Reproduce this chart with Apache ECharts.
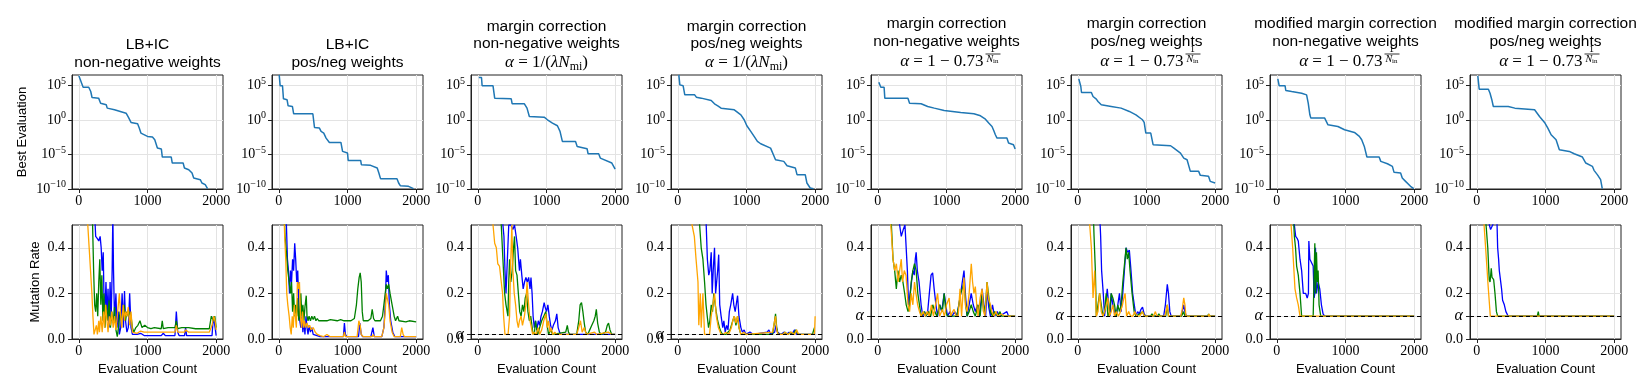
<!DOCTYPE html>
<html>
<head>
<meta charset="utf-8">
<script src="https://cdn.jsdelivr.net/npm/echarts@6/dist/echarts.min.js"></script>
<style>
  html, body { margin: 0; padding: 0; background: #fff; }
  #main { width: 1644px; height: 392px; }
</style>
</head>
<body>
<div id="main"></div>
<script>
// tick positions
const xTicks = [0, 1000, 2000];
const logTicks = [1e-10, 1e-5, 1, 1e5];
const rateTicks = [0, 0.2, 0.4];

// panel titles
const titleLines = [
  ['LB+IC', 'non-negative weights'],
  ['LB+IC', 'pos/neg weights'],
  ['margin correction', 'non-negative weights'],
  ['margin correction', 'pos/neg weights'],
  ['margin correction', 'non-negative weights'],
  ['margin correction', 'pos/neg weights'],
  ['modified margin correction', 'non-negative weights'],
  ['modified margin correction', 'pos/neg weights']
];
const formulaKind = [null, null, 'mi', 'mi', 'in', 'in', 'in', 'in'];
const alphaValues = [null, null, 0.02, 0.02, 0.1, 0.1, 0.1, 0.1];

// best evaluation, stored as [evaluation count, log10(best)]
const best1 = [[0,6.43],[62,4.78],[144,4.78],[173,4.15],[192,3.28],[288,3.19],[317,2.46],[399,2.22],[413,1.74],[519,1.5],[688,1.01],[721,0.43],[760,-0.34],[856,-0.53],[880,-1.16],[904,-1.88],[1000,-2.37],[1072,-2.46],[1106,-2.85],[1144,-4.06],[1202,-4.2],[1216,-5.36],[1346,-5.36],[1361,-6.23],[1519,-6.23],[1538,-6.96],[1601,-7.2],[1649,-7.68],[1673,-8.4],[1769,-8.65],[1793,-9.13],[1841,-9.37],[1875,-9.95]];
const best2 = [[5,6.57],[19,4.98],[53,4.98],[67,3.09],[120,2.95],[135,2.08],[197,1.98],[216,0.92],[495,0.92],[519,-1.06],[591,-1.16],[615,-1.64],[654,-1.88],[688,-2.61],[736,-3.24],[904,-3.24],[928,-4.54],[1000,-4.78],[1010,-5.85],[1192,-5.85],[1202,-6.47],[1337,-6.57],[1433,-6.96],[1457,-7.68],[1481,-8.5],[1721,-8.5],[1745,-9.13],[1769,-9.52],[1889,-9.61],[1962,-9.95]];
const best3 = [[14,6.18],[53,6.18],[62,4.98],[221,4.98],[245,3.19],[486,3.09],[500,2.37],[678,2.37],[716,1.74],[750,0.53],[966,0.43],[1014,0.05],[1087,-0.43],[1159,-0.82],[1197,-1.64],[1231,-3.09],[1423,-3.09],[1447,-3.82],[1591,-4.15],[1606,-4.88],[1760,-4.88],[1784,-5.51],[1952,-6.23],[2000,-7.1]];
const best4 = [[14,6.57],[29,5.12],[77,4.98],[101,3.67],[245,3.67],[269,3.33],[341,3.19],[356,2.95],[486,2.85],[534,2.37],[582,2.08],[630,1.74],[822,1.5],[918,0.77],[966,0.05],[1005,-0.82],[1062,-1.64],[1111,-2.37],[1159,-3.09],[1207,-3.43],[1351,-4.06],[1423,-5.75],[1543,-5.99],[1591,-6.62],[1712,-6.96],[1736,-7.92],[1856,-7.92],[1880,-9.13],[1928,-9.86],[1976,-9.95]];
const best5 = [[14,5.51],[43,4.78],[91,4.78],[101,3.19],[438,3.19],[462,2.46],[630,2.37],[726,1.98],[822,1.74],[966,1.4],[1207,1.11],[1399,0.92],[1495,0.63],[1567,0.14],[1615,-0.43],[1663,-0.92],[1688,-1.5],[1712,-2.13],[1736,-2.61],[1880,-2.61],[1904,-3.33],[1976,-3.57],[2000,-4.2]];
const best6 = [[14,5.99],[43,4.88],[53,4.01],[197,4.01],[221,3.43],[269,3.04],[293,2.71],[341,2.22],[486,1.98],[630,1.74],[750,1.26],[846,0.77],[942,0.05],[966,-0.34],[990,-1.88],[1062,-1.88],[1096,-3.57],[1351,-3.72],[1399,-4.06],[1495,-4.78],[1543,-5.51],[1591,-5.75],[1639,-7.44],[1760,-7.44],[1784,-8.02],[1904,-8.16],[1928,-8.89],[2000,-9.13]];
const best7 = [[14,5.99],[34,4.98],[120,4.98],[130,4.3],[216,4.15],[361,3.91],[433,3.67],[457,2.46],[481,0.77],[495,0.29],[697,0.29],[745,-0.68],[889,-0.92],[986,-1.4],[1130,-1.79],[1202,-2.37],[1236,-2.85],[1274,-3.82],[1312,-5.36],[1490,-5.36],[1514,-5.99],[1611,-6.33],[1683,-6.71],[1707,-7.58],[1803,-7.68],[1827,-8.41],[1875,-8.89],[1947,-9.61],[1995,-9.95]];
const best8 = [[14,6.43],[34,4.49],[168,4.49],[192,3.91],[216,3.04],[240,1.98],[457,1.98],[553,1.74],[841,1.5],[913,0.53],[986,-0.34],[1034,-1.16],[1082,-2.13],[1154,-2.85],[1202,-4.3],[1346,-4.54],[1418,-4.88],[1538,-5.36],[1587,-6.23],[1683,-6.71],[1707,-7.29],[1755,-7.92],[1803,-8.65],[1827,-9.95]];

// mutation rate, [evaluation count, rate]
const blue1 = [[0,1],[200,0.9],[230,0.55],[245,0.45],[270,0.44],[290,0.43],[310,0.45],[325,0.4],[340,0.3],[355,0.38],[365,0.2],[380,0.12],[395,0.25],[410,0.1],[425,0.22],[440,0.05],[455,0.25],[470,0.08],[485,0.3],[495,0.55],[505,0.3],[520,0.08],[540,0.2],[555,0.05],[575,0.12],[590,0.02],[610,0.05],[630,0.2],[650,0.05],[665,0.21],[680,0.08],[700,0.03],[720,0.05],[740,0.2],[760,0.05],[780,0.02],[800,0.015],[850,0.02],[900,0.025],[950,0.015],[1200,0.015],[1230,0.025],[1260,0.015],[1400,0.015],[1420,0.12],[1440,0.03],[1460,0.015],[1540,0.015],[1555,0.05],[1570,0.015],[1940,0.015],[1960,0.1],[1985,0.05],[2000,0.015]];
const green1 = [[0,1],[180,0.8],[200,0.5],[215,0.3],[230,0.15],[245,0.12],[260,0.2],[275,0.1],[290,0.25],[305,0.35],[320,0.15],[335,0.28],[350,0.08],[365,0.2],[380,0.05],[400,0.15],[420,0.08],[440,0.17],[460,0.05],[480,0.12],[500,0.07],[520,0.14],[540,0.04],[560,0.01],[580,0.06],[600,0.12],[620,0.08],[640,0.1],[660,0.15],[680,0.08],[700,0.12],[720,0.1],[740,0.12],[760,0.1],[780,0.05],[800,0.03],[830,0.05],[860,0.06],[890,0.08],[920,0.05],[960,0.06],[1000,0.05],[1050,0.045],[1100,0.05],[1200,0.045],[1215,0.08],[1230,0.045],[1300,0.05],[1400,0.05],[1420,0.08],[1440,0.045],[1500,0.05],[1600,0.05],[1700,0.045],[1900,0.045],[1930,0.1],[1960,0.08],[1980,0.1],[2000,0.05]];
const orange1 = [[0,1],[100,0.7],[130,0.5],[150,0.4],[170,0.3],[190,0.2],[205,0.1],[220,0.02],[240,0.02],[255,0.06],[270,0.02],[290,0.08],[300,0.03],[320,0.1],[340,0.03],[360,0.12],[375,0.05],[390,0.15],[410,0.08],[425,0.03],[445,0.1],[460,0.06],[480,0.12],[500,0.05],[520,0.1],[540,0.04],[560,0.1],[575,0.15],[590,0.2],[610,0.1],[625,0.05],[645,0.15],[665,0.08],[680,0.12],[700,0.1],[720,0.14],[740,0.06],[760,0.12],[780,0.03],[800,0.025],[850,0.025],[900,0.035],[950,0.03],[1200,0.03],[1220,0.035],[1400,0.03],[1420,0.06],[1440,0.03],[1540,0.03],[1555,0.04],[1600,0.03],[1900,0.03],[1940,0.06],[1965,0.1],[1985,0.08],[2000,0.04]];

const blue2 = [[0,1],[90,0.7],[110,0.5],[125,0.35],[140,0.3],[155,0.2],[170,0.3],[185,0.25],[200,0.35],[215,0.3],[231,0.42],[245,0.35],[260,0.25],[275,0.3],[290,0.15],[305,0.08],[320,0.05],[335,0.1],[350,0.03],[365,0.08],[380,0.02],[395,0.1],[410,0.05],[425,0.02],[440,0.06],[460,0.03],[480,0.05],[500,0.02],[520,0.015],[600,0.01],[940,0.01],[955,0.07],[970,0.02],[990,0.01],[1160,0.01],[1180,0.07],[1200,0.02],[1220,0.01],[1340,0.01],[1370,0.05],[1390,0.01],[1500,0.01],[1530,0.05],[1550,0.15],[1565,0.3],[1580,0.25],[1595,0.28],[1610,0.15],[1630,0.08],[1660,0.03],[1690,0.01],[2000,0.01]];
const green2 = [[0,1],[70,0.6],[90,0.45],[110,0.38],[130,0.3],[150,0.25],[170,0.2],[185,0.25],[200,0.12],[215,0.2],[230,0.1],[245,0.15],[260,0.1],[275,0.18],[290,0.08],[305,0.12],[320,0.2],[335,0.1],[350,0.15],[365,0.08],[380,0.14],[399,0.19],[410,0.1],[425,0.08],[440,0.1],[460,0.08],[480,0.1],[500,0.085],[519,0.1],[540,0.08],[560,0.09],[580,0.08],[600,0.085],[700,0.08],[750,0.085],[850,0.08],[900,0.085],[950,0.08],[1050,0.08],[1100,0.09],[1130,0.15],[1150,0.22],[1170,0.27],[1185,0.29],[1200,0.25],[1215,0.12],[1230,0.08],[1300,0.08],[1340,0.09],[1360,0.13],[1380,0.09],[1400,0.08],[1480,0.08],[1510,0.1],[1530,0.15],[1550,0.2],[1565,0.24],[1580,0.22],[1600,0.24],[1620,0.2],[1650,0.15],[1680,0.1],[1700,0.08],[1730,0.1],[1750,0.08],[1850,0.075],[1900,0.08],[2000,0.075]];
const orange2 = [[0,1],[70,0.6],[85,0.45],[100,0.35],[115,0.2],[130,0.15],[150,0.1],[165,0.05],[180,0.02],[195,0.1],[210,0.05],[225,0.15],[240,0.1],[255,0.05],[270,0.25],[285,0.22],[300,0.25],[315,0.1],[330,0.05],[345,0.12],[360,0.05],[375,0.08],[390,0.05],[410,0.07],[430,0.05],[450,0.06],[470,0.04],[500,0.05],[530,0.03],[560,0.02],[600,0.015],[650,0.01],[700,0.02],[750,0.01],[940,0.01],[955,0.03],[970,0.01],[1140,0.01],[1165,0.08],[1185,0.06],[1200,0.02],[1230,0.01],[1360,0.01],[1375,0.02],[1390,0.01],[1500,0.01],[1530,0.05],[1550,0.12],[1565,0.2],[1580,0.2],[1600,0.15],[1620,0.08],[1650,0.03],[1680,0.01],[1770,0.01],[1790,0.05],[1810,0.02],[1830,0.01],[2000,0.01]];

const blue3 = [[0,1],[340,0.8],[365,0.5],[380,0.45],[395,0.3],[410,0.2],[430,0.35],[450,0.5],[480,0.5],[510,0.48],[534,0.5],[558,0.45],[580,0.4],[606,0.3],[620,0.35],[640,0.28],[660,0.22],[680,0.25],[700,0.27],[720,0.25],[740,0.27],[760,0.22],[774,0.27],[790,0.2],[805,0.1],[822,0.05],[840,0.08],[860,0.04],[880,0.08],[900,0.06],[920,0.1],[940,0.12],[966,0.16],[980,0.14],[1000,0.12],[1020,0.15],[1040,0.1],[1060,0.06],[1080,0.04],[1100,0.06],[1130,0.08],[1150,0.11],[1170,0.05],[1190,0.03],[1210,0.02],[2000,0.02]];
const green3 = [[0,1],[320,0.7],[341,0.5],[365,0.35],[390,0.2],[410,0.15],[438,0.1],[450,0.25],[462,0.35],[480,0.25],[500,0.3],[520,0.4],[534,0.45],[550,0.3],[570,0.28],[590,0.2],[610,0.12],[630,0.1],[650,0.15],[670,0.12],[690,0.18],[710,0.2],[730,0.12],[750,0.08],[770,0.1],[800,0.03],[822,0.02],[840,0.08],[860,0.04],[875,0.02],[900,0.05],[930,0.08],[960,0.1],[990,0.12],[1010,0.06],[1030,0.02],[1060,0.04],[1090,0.02],[1280,0.03],[1303,0.06],[1320,0.03],[1340,0.02],[1440,0.02],[1470,0.08],[1490,0.15],[1510,0.16],[1530,0.12],[1550,0.07],[1570,0.03],[1600,0.02],[1630,0.04],[1660,0.06],[1690,0.08],[1710,0.1],[1726,0.13],[1745,0.07],[1770,0.03],[1800,0.02],[1860,0.03],[1885,0.06],[1904,0.07],[1925,0.04],[1950,0.02],[2000,0.02]];
const orange3 = [[0,1],[200,0.6],[221,0.5],[245,0.42],[269,0.4],[290,0.33],[315,0.32],[341,0.25],[360,0.2],[375,0.1],[395,0.02],[440,0.02],[462,0.1],[475,0.3],[495,0.5],[510,0.3],[530,0.2],[550,0.15],[570,0.08],[590,0.05],[606,0.08],[630,0.1],[650,0.06],[678,0.1],[700,0.15],[716,0.25],[740,0.15],[760,0.08],[780,0.05],[798,0.02],[820,0.03],[850,0.02],[880,0.05],[900,0.02],[930,0.04],[960,0.08],[990,0.11],[1010,0.05],[1030,0.08],[1050,0.03],[1070,0.05],[1090,0.02],[1120,0.03],[1150,0.02],[1440,0.02],[1470,0.05],[1495,0.08],[1520,0.03],[1550,0.05],[1580,0.02],[1700,0.03],[1730,0.02],[1900,0.03],[1950,0.02],[2000,0.02]];

const blue4 = [[0,1],[400,0.6],[413,0.5],[430,0.35],[450,0.28],[466,0.3],[486,0.38],[500,0.2],[515,0.3],[534,0.4],[550,0.2],[565,0.25],[580,0.3],[595,0.37],[610,0.15],[630,0.1],[654,0.05],[670,0.08],[690,0.03],[710,0.06],[730,0.04],[750,0.12],[770,0.15],[798,0.2],[815,0.15],[835,0.12],[850,0.15],[870,0.19],[890,0.1],[918,0.05],[940,0.03],[966,0.04],[990,0.02],[1050,0.03],[1100,0.02],[1300,0.03],[1327,0.04],[1350,0.02],[1410,0.03],[1430,0.06],[1450,0.03],[1500,0.02],[1550,0.03],[1580,0.02],[1620,0.03],[1660,0.02],[1700,0.04],[1730,0.02],[2000,0.02]];
const green4 = [[0,1],[300,0.6],[317,0.5],[340,0.4],[365,0.35],[389,0.25],[410,0.15],[428,0.1],[447,0.05],[466,0.08],[486,0.15],[505,0.12],[524,0.2],[545,0.15],[558,0.12],[580,0.08],[606,0.05],[630,0.03],[654,0.02],[700,0.02],[760,0.04],[800,0.08],[822,0.1],[846,0.06],[870,0.1],[890,0.05],[918,0.02],[1380,0.02],[1405,0.07],[1423,0.11],[1440,0.05],[1460,0.02],[1530,0.02],[1560,0.03],[1600,0.02],[1640,0.03],[1680,0.02],[1720,0.04],[1750,0.02],[1960,0.02],[1990,0.05],[2000,0.05]];
const orange4 = [[0,1],[190,0.6],[207,0.5],[240,0.45],[265,0.35],[293,0.25],[305,0.06],[327,0.2],[340,0.05],[365,0.2],[389,0.02],[462,0.02],[486,0.1],[510,0.15],[534,0.2],[560,0.1],[590,0.05],[610,0.05],[630,0.02],[660,0.02],[700,0.03],[740,0.02],[780,0.05],[800,0.08],[822,0.1],[846,0.07],[870,0.1],[890,0.05],[918,0.02],[960,0.03],[1000,0.02],[1380,0.03],[1410,0.08],[1423,0.1],[1440,0.04],[1460,0.02],[1530,0.02],[1560,0.03],[1600,0.02],[1650,0.03],[1700,0.02],[1730,0.04],[1760,0.02],[1990,0.02],[2000,0.1]];

const blue5 = [[0,1],[300,0.6],[317,0.5],[341,0.45],[370,0.48],[395,0.5],[413,0.5],[430,0.3],[447,0.15],[470,0.2],[490,0.25],[510,0.3],[530,0.28],[545,0.35],[558,0.38],[575,0.3],[600,0.25],[630,0.15],[654,0.1],[680,0.12],[700,0.1],[726,0.12],[750,0.2],[775,0.28],[798,0.29],[820,0.22],[846,0.15],[870,0.1],[900,0.15],[930,0.12],[966,0.2],[990,0.15],[1014,0.1],[1050,0.12],[1080,0.1],[1120,0.12],[1150,0.1],[1180,0.15],[1207,0.2],[1230,0.25],[1255,0.3],[1275,0.2],[1300,0.1],[1330,0.15],[1360,0.2],[1390,0.15],[1420,0.12],[1450,0.15],[1480,0.1],[1519,0.22],[1545,0.15],[1570,0.1],[1591,0.22],[1615,0.14],[1640,0.1],[1670,0.15],[1700,0.1],[1740,0.12],[1770,0.1],[1880,0.12],[1904,0.1],[2000,0.1]];
const green5 = [[0,1],[180,0.6],[197,0.5],[221,0.35],[245,0.3],[269,0.22],[293,0.3],[317,0.25],[341,0.28],[365,0.25],[390,0.2],[413,0.15],[440,0.12],[462,0.15],[486,0.25],[510,0.3],[534,0.33],[558,0.3],[582,0.2],[606,0.15],[630,0.1],[680,0.12],[700,0.1],[740,0.12],[770,0.1],[800,0.15],[830,0.12],[860,0.1],[900,0.15],[940,0.12],[966,0.2],[990,0.12],[1014,0.1],[1150,0.1],[1180,0.15],[1207,0.2],[1230,0.22],[1255,0.25],[1280,0.15],[1300,0.1],[1330,0.12],[1360,0.15],[1390,0.12],[1420,0.1],[1460,0.15],[1490,0.1],[1519,0.2],[1540,0.12],[1570,0.15],[1591,0.25],[1610,0.2],[1640,0.12],[1670,0.1],[1700,0.12],[1740,0.1],[1780,0.12],[1800,0.1],[2000,0.1]];
const orange5 = [[0,1],[170,0.6],[188,0.5],[200,0.45],[221,0.35],[245,0.3],[270,0.33],[295,0.25],[317,0.3],[341,0.35],[360,0.25],[385,0.3],[410,0.28],[440,0.15],[462,0.12],[486,0.2],[510,0.15],[534,0.25],[555,0.2],[580,0.15],[606,0.12],[630,0.1],[660,0.12],[690,0.1],[720,0.12],[750,0.1],[780,0.15],[810,0.1],[840,0.15],[870,0.2],[900,0.1],[940,0.13],[970,0.1],[1000,0.15],[1038,0.18],[1060,0.1],[1090,0.12],[1111,0.13],[1140,0.1],[1170,0.1],[1197,0.22],[1220,0.1],[1240,0.2],[1255,0.27],[1275,0.15],[1300,0.12],[1330,0.2],[1361,0.33],[1380,0.25],[1400,0.2],[1420,0.23],[1440,0.15],[1460,0.1],[1490,0.18],[1519,0.22],[1540,0.12],[1560,0.1],[1591,0.25],[1610,0.18],[1640,0.15],[1660,0.12],[1690,0.1],[1720,0.12],[1750,0.1],[1800,0.11],[1850,0.1],[2000,0.1]];

const blue6 = [[0,1],[310,0.6],[332,0.45],[346,0.3],[370,0.2],[389,0.1],[405,0.15],[428,0.22],[450,0.15],[470,0.1],[486,0.2],[510,0.15],[534,0.12],[558,0.1],[582,0.15],[606,0.2],[630,0.12],[654,0.2],[678,0.3],[702,0.4],[726,0.38],[750,0.39],[774,0.3],[798,0.2],[822,0.15],[846,0.1],[870,0.12],[894,0.11],[920,0.13],[942,0.14],[966,0.11],[990,0.1],[1250,0.1],[1275,0.15],[1303,0.24],[1320,0.2],[1340,0.12],[1360,0.1],[1500,0.1],[1520,0.12],[1543,0.15],[1560,0.12],[1580,0.1],[2000,0.1]];
const green6 = [[0,1],[220,0.6],[236,0.45],[255,0.3],[269,0.1],[293,0.15],[317,0.2],[341,0.15],[365,0.1],[389,0.12],[413,0.2],[438,0.1],[462,0.12],[486,0.2],[510,0.18],[534,0.15],[558,0.1],[582,0.15],[606,0.12],[630,0.15],[655,0.25],[680,0.33],[702,0.4],[720,0.35],[740,0.38],[760,0.3],[790,0.2],[820,0.12],[846,0.1],[870,0.1],[900,0.11],[942,0.12],[970,0.1],[1060,0.1],[1080,0.11],[1100,0.1],[1160,0.1],[1180,0.11],[1200,0.1],[1280,0.1],[1303,0.15],[1320,0.1],[1510,0.1],[1540,0.12],[1560,0.1],[1890,0.1],[1904,0.11],[1920,0.1],[2000,0.1]];
const orange6 = [[0,1],[160,0.6],[173,0.5],[197,0.4],[221,0.18],[245,0.3],[269,0.1],[293,0.12],[317,0.2],[341,0.12],[365,0.1],[389,0.12],[413,0.15],[438,0.18],[460,0.1],[486,0.12],[510,0.15],[534,0.1],[560,0.12],[590,0.1],[620,0.12],[650,0.15],[670,0.18],[688,0.2],[710,0.1],[740,0.12],[770,0.1],[800,0.1],[830,0.12],[860,0.1],[900,0.1],[942,0.12],[970,0.1],[1100,0.1],[1130,0.12],[1150,0.1],[1270,0.1],[1290,0.13],[1303,0.15],[1320,0.1],[1500,0.1],[1520,0.13],[1543,0.18],[1560,0.15],[1575,0.1],[1900,0.1],[1910,0.11],[1920,0.1],[2000,0.1]];

const blue7 = [[0,1],[240,0.6],[255,0.5],[274,0.45],[298,0.44],[312,0.43],[337,0.35],[361,0.3],[385,0.2],[420,0.2],[442,0.18],[460,0.2],[466,0.43],[481,0.35],[505,0.35],[529,0.32],[543,0.18],[553,0.2],[563,0.4],[577,0.2],[601,0.25],[625,0.22],[649,0.15],[673,0.11],[697,0.1],[2000,0.1]];
const green7 = [[0,1],[230,0.6],[255,0.45],[272,0.4],[288,0.32],[312,0.28],[337,0.2],[361,0.1],[529,0.1],[545,0.3],[553,0.42],[565,0.2],[577,0.38],[590,0.25],[601,0.3],[615,0.15],[639,0.1],[2000,0.1]];
const orange7 = [[0,1],[185,0.6],[207,0.5],[230,0.4],[264,0.22],[288,0.18],[312,0.15],[337,0.1],[2000,0.1]];

const blue8 = [[0,1],[160,0.6],[182,0.5],[200,0.48],[230,0.5],[290,0.55],[303,0.4],[317,0.35],[327,0.3],[345,0.3],[360,0.22],[375,0.17],[400,0.15],[423,0.12],[440,0.11],[456,0.1],[2000,0.1]];
const green8 = [[0,1],[120,0.6],[134,0.5],[159,0.4],[180,0.26],[192,0.25],[210,0.31],[221,0.27],[245,0.26],[264,0.2],[285,0.12],[303,0.1],[880,0.1],[895,0.12],[905,0.1],[2000,0.1]];
const orange8 = [[0,1],[90,0.6],[105,0.5],[150,0.3],[160,0.25],[196,0.1],[2000,0.1]];

const bestAll = [best1, best2, best3, best4, best5, best6, best7, best8];
const blueAll = [blue1, blue2, blue3, blue4, blue5, blue6, blue7, blue8];
const greenAll = [green1, green2, green3, green4, green5, green6, green7, green8];
const orangeAll = [orange1, orange2, orange3, orange4, orange5, orange6, orange7, orange8];

// ---- layout ----
const SANS = '"Liberation Sans", Arial, sans-serif';
const SERIF = '"Liberation Serif", "Times New Roman", serif';
const AX = '#222';
const GRID = '#e3e3e3';
const lefts = [72, 272, 471, 671, 871, 1071, 1270, 1470];
const W = 151, H = 114, TOP1 = 75, TOP2 = 225;

const chart = echarts.init(document.getElementById('main'));

const grid = [], xAxis = [], yAxis = [], series = [], graphic = [];

function xAxisFor(gridIndex, named) {
  return {
    type: 'value', gridIndex, min: -100, max: 2100,
    axisLine: { show: true, onZero: false, lineStyle: { color: AX, width: 1 } },
    axisTick: { show: true, length: 4, customValues: xTicks, lineStyle: { color: AX } },
    axisLabel: { customValues: xTicks, margin: 5, color: '#000', fontFamily: SERIF, fontSize: 14, formatter: v => String(v) },
    splitLine: { show: true, lineStyle: { color: GRID, width: 1 } },
    name: named ? 'Evaluation Count' : '', nameLocation: 'middle', nameGap: 24,
    nameTextStyle: { fontFamily: SANS, fontSize: 13, color: '#000' }
  };
}

// top row: best evaluation (log)
lefts.forEach((left, i) => {
  grid.push({ left, top: TOP1, width: W, height: H, show: true, borderColor: AX, borderWidth: 1, backgroundColor: 'transparent' });
  xAxis.push(xAxisFor(i, false));
  yAxis.push({
    type: 'log', logBase: 10, gridIndex: i, min: 9.99e-11, max: Math.pow(10, 6.55),
    axisLine: { show: true, onZero: false, lineStyle: { color: AX, width: 1 } },
    axisTick: { show: true, length: 4, customValues: logTicks, lineStyle: { color: AX } },
    axisLabel: {
      customValues: logTicks, margin: 6,
      formatter: v => {
        const e = Math.round(Math.log10(v));
        return '{b|10}{s|' + (e < 0 ? '\u2212' + (-e) : e) + '}';
      },
      rich: {
        b: { fontFamily: SERIF, fontSize: 14, lineHeight: 19, color: '#000' },
        s: { fontFamily: SERIF, fontSize: 10, lineHeight: 11, verticalAlign: 'top', color: '#000' }
      }
    },
    splitLine: { show: true, lineStyle: { color: GRID, width: 1 } },
    name: i === 0 ? 'Best Evaluation' : '', nameLocation: 'middle', nameGap: 43,
    nameTextStyle: { fontFamily: SANS, fontSize: 13, color: '#000' }
  });
  series.push({
    type: 'line', xAxisIndex: i, yAxisIndex: i, showSymbol: false, animation: false,
    data: bestAll[i].map(p => [p[0], Math.pow(10, p[1])]),
    lineStyle: { color: '#1f77b4', width: 1.5 }, itemStyle: { color: '#1f77b4' }
  });
});

// bottom row: mutation rate
lefts.forEach((left, i) => {
  const gi = 8 + i;
  const alpha = alphaValues[i];
  const ticks = alpha == null ? rateTicks : rateTicks.concat([alpha]);
  grid.push({ left, top: TOP2, width: W, height: H, show: true, borderColor: AX, borderWidth: 1, backgroundColor: 'transparent' });
  xAxis.push(xAxisFor(gi, true));
  yAxis.push({
    type: 'value', gridIndex: gi, min: 0, max: 0.5,
    axisLine: { show: true, onZero: false, lineStyle: { color: AX, width: 1 } },
    axisTick: { show: true, length: 4, customValues: ticks, lineStyle: { color: AX } },
    axisLabel: {
      customValues: ticks, margin: 7, color: '#000', fontFamily: SERIF, fontSize: 14,
      formatter: v => (alpha != null && Math.abs(v - alpha) < 1e-9) ? '{a|\u03b1}' : v.toFixed(1),
      rich: { a: { fontFamily: SERIF, fontStyle: 'italic', fontSize: 16, color: '#000' } }
    },
    splitLine: { show: true, lineStyle: { color: GRID, width: 1 } },
    name: i === 0 ? 'Mutation Rate' : '', nameLocation: 'middle', nameGap: 30,
    nameTextStyle: { fontFamily: SANS, fontSize: 13, color: '#000' }
  });
  [[blueAll, '#0000ff'], [greenAll, '#008000'], [orangeAll, '#ffa500']].forEach(([set, color]) => {
    series.push({
      type: 'line', xAxisIndex: gi, yAxisIndex: gi, showSymbol: false, animation: false,
      data: set[i], lineStyle: { color, width: 1.3 }, itemStyle: { color }
    });
  });
  if (alpha != null) {
    series.push({
      type: 'line', xAxisIndex: gi, yAxisIndex: gi, data: [], animation: false,
      markLine: {
        silent: true, symbol: ['none', 'none'], animation: false,
        label: { show: false },
        lineStyle: { type: [4, 3], color: '#000', width: 1.2 },
        data: [{ yAxis: alpha }]
      }
    });
  }
});

// titles
const lineY = {
  none: [45, 63],
  mi: [27, 44, 63],
  in: [24, 42, 62]
};
lefts.forEach((left, i) => {
  const cx = left + W / 2;
  const kind = formulaKind[i] || 'none';
  const ys = lineY[kind];
  titleLines[i].forEach((t, k) => {
    graphic.push({
      type: 'text', x: cx, y: ys[k], silent: true,
      style: { text: t, font: '15.5px ' + SANS, fill: '#000', align: 'center', verticalAlign: 'middle', textAlign: 'center', textVerticalAlign: 'middle' }
    });
  });
  const y3 = ys[2];
  const mathRich = {
    i: { fontFamily: SERIF, fontStyle: 'italic', fontSize: 17, lineHeight: 20, color: '#000' },
    r: { fontFamily: SERIF, fontSize: 17, lineHeight: 20, color: '#000' },
    sub: { fontFamily: SERIF, fontSize: 12, lineHeight: 12, verticalAlign: 'bottom', color: '#000' }
  };
  if (kind === 'mi') {
    graphic.push({
      type: 'text', x: cx, y: y3, silent: true,
      style: {
        text: '{i|\u03b1}{r| = 1/(}{i|\u03bbN}{sub|mi}{r|)}', rich: mathRich,
        align: 'center', verticalAlign: 'middle', textAlign: 'center', textVerticalAlign: 'middle'
      }
    });
  } else if (kind === 'in') {
    graphic.push({
      type: 'text', x: cx + 37, y: y3, silent: true,
      style: {
        text: '{i|\u03b1}{r| = 1 \u2212 0.73}', rich: mathRich,
        align: 'right', verticalAlign: 'middle', textAlign: 'right', textVerticalAlign: 'middle'
      }
    });
    graphic.push({
      type: 'text', x: cx + 46, y: y3 - 12.5, silent: true,
      style: { text: '1', font: '10px ' + SERIF, fill: '#000', align: 'center', verticalAlign: 'middle', textAlign: 'center', textVerticalAlign: 'middle' }
    });
    graphic.push({
      type: 'line', silent: true,
      shape: { x1: cx + 39, y1: y3 - 8, x2: cx + 54, y2: y3 - 8 },
      style: { stroke: '#000', lineWidth: 0.8 }
    });
    graphic.push({
      type: 'text', x: cx + 46, y: y3 - 2.5, silent: true,
      style: {
        text: '{n|N}{s|in}',
        rich: {
          n: { fontFamily: SERIF, fontStyle: 'italic', fontSize: 10, lineHeight: 10, color: '#000' },
          s: { fontFamily: SERIF, fontSize: 7, lineHeight: 7, verticalAlign: 'bottom', color: '#000' }
        },
        align: 'center', verticalAlign: 'middle', textAlign: 'center', textVerticalAlign: 'middle'
      }
    });
  }
});

chart.setOption({
  animation: false,
  backgroundColor: '#fff',
  grid, xAxis, yAxis, series, graphic
});
</script>
</body>
</html>
